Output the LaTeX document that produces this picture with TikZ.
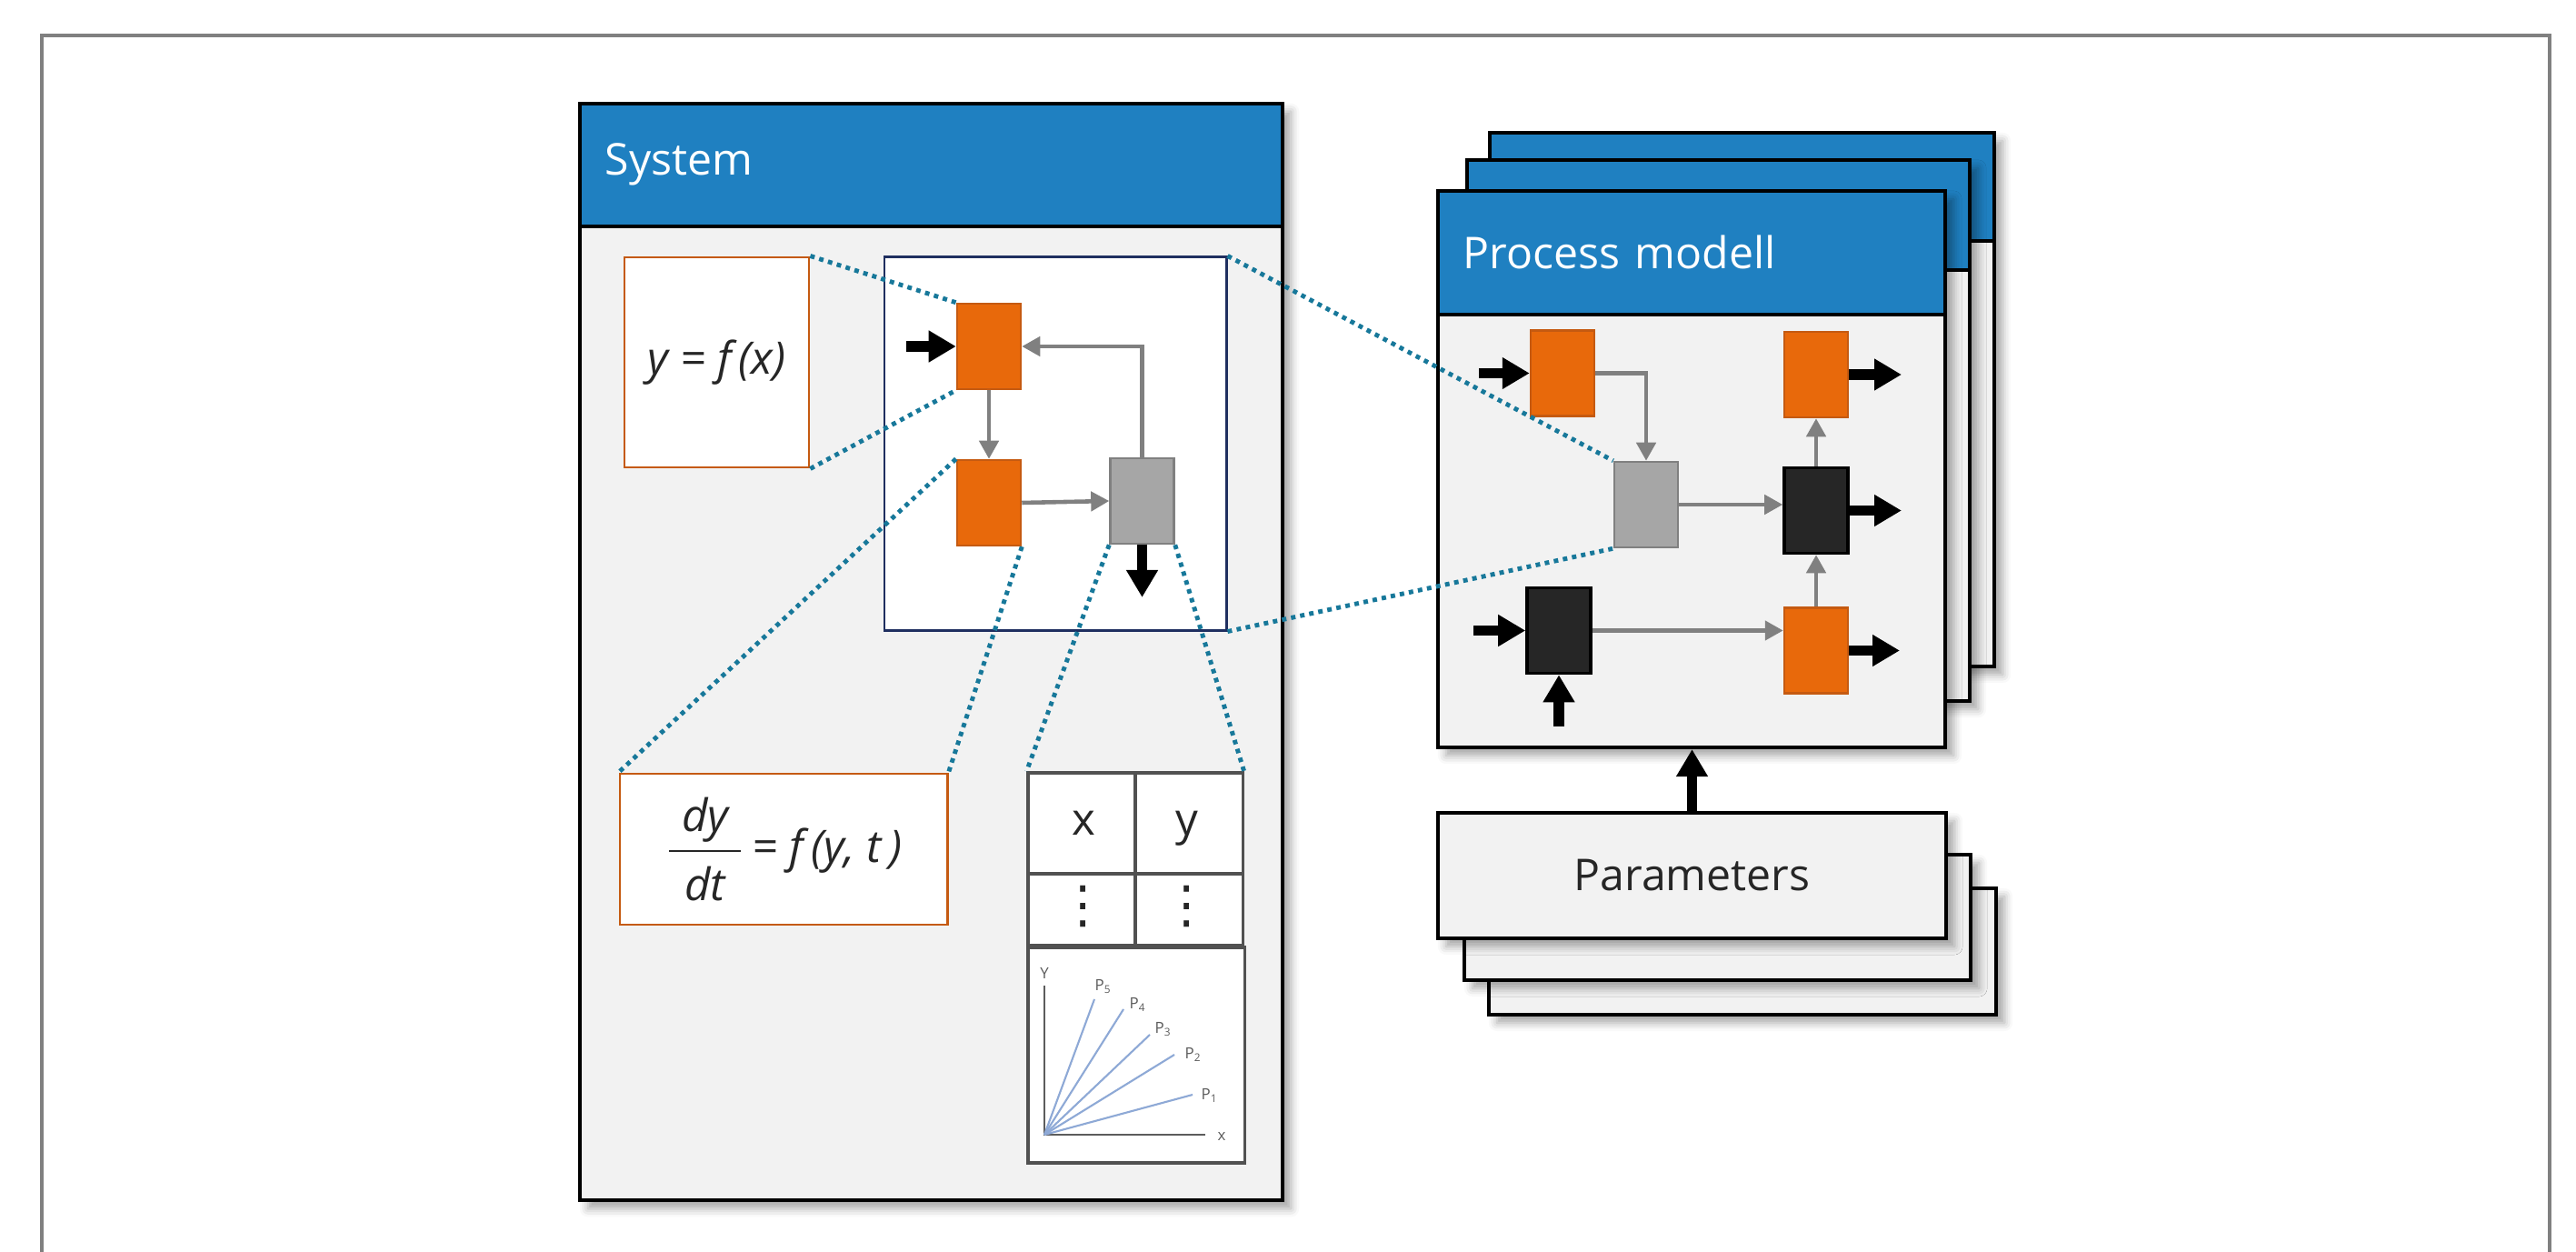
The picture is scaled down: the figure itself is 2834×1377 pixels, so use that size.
\documentclass[tikz,border=0pt]{standalone}
\usepackage{fontspec}
\setmainfont{Open Sans}
\newfontfamily\dotsfont{DejaVu Sans}
\usetikzlibrary{arrows.meta,calc,shadows.blur}
\definecolor{c0}{HTML}{1F80C1}
\definecolor{c1}{HTML}{E8690B}
\definecolor{c2}{HTML}{C55A11}
\definecolor{c3}{HTML}{17789A}
\definecolor{c4}{HTML}{F2F2F2}
\definecolor{c5}{HTML}{1F2F60}
\definecolor{c6}{HTML}{8EA9D6}
\definecolor{ink}{HTML}{262626}
\definecolor{mid}{HTML}{808080}
\tikzset{%
  frame/.style={draw=mid,line width=0.9pt},
  card/.style={draw=black,fill=c4,line width=1.1pt,inner sep=0pt,
    blur shadow={shadow xshift=0.9mm,shadow yshift=-0.9mm,shadow blur radius=0.9mm,shadow opacity=35}},
  head/.style={draw=black,fill=c0,line width=1.1pt,inner xsep=0.28cm,inner ysep=0pt,
    align=left,text=white,font=\fontsize{13.7}{16}\selectfont},
  eqbox/.style={draw=c2,fill=white,line width=0.8pt,inner sep=0pt,text=ink,
    font=\fontsize{14}{17}\selectfont},
  subbox/.style={draw=c5,fill=white,line width=0.8pt,inner sep=0pt},
  tabbox/.style={draw=ink!80,fill=white,line width=0.9pt,inner sep=0pt},
  tabline/.style={draw=ink!80,line width=0.9pt},
  cell/.style={inner sep=0pt,text=ink,font=\fontsize{14}{17}\selectfont},
  plab/.style={inner sep=0pt,text=ink!75,font=\fontsize{4.8}{5}\selectfont},
  blk/.style={line width=0.7pt,minimum width=0.70cm,minimum height=0.94cm,inner sep=0pt},
  oblock/.style={blk,draw=c2,fill=c1},
  gblock/.style={blk,draw=mid,fill=black!35},
  kblock/.style={blk,draw=black,fill=ink,line width=1pt},
  garrow/.style={draw=mid,line width=1.3pt,-{Triangle[length=0.2cm,width=0.21cm]}},
  barrow/.style={draw=black,line width=3.2pt,-{Triangle[length=0.3cm,width=0.33cm]}},
  zoomline/.style={draw=c3,line width=1.4pt,dash pattern=on 1.4pt off 1.5pt},
  curve/.style={draw=c6,line width=0.6pt},
  axis/.style={draw=ink!75,line width=0.7pt}
}

\begin{document}
\begin{tikzpicture}[x=0.01cm,y=-0.01cm]
  \useasboundingbox (0,0) rectangle (2834,1377);
  % Frame
  \draw[frame] (46,1377) -- (46,39) -- (2805,39) -- (2805,1377);

  % System
  \node[card,minimum width=7.73cm,minimum height=12.06cm] (sys) at (1024.5,717) {};
  \node[head,anchor=north west,text width=7.17cm,minimum height=1.35cm] (sysh) at (sys.north west) {System};
  \node[eqbox,minimum width=2.03cm,minimum height=2.31cm] (fx) at (788.5,398.5) {\itshape y = f\,(x)};
  \node[eqbox,minimum width=3.60cm,minimum height=1.66cm] (ode) at (862,934)
    {$\displaystyle\frac{\mbox{\hspace{4pt}\itshape dy\hspace{4pt}}\rule[-3pt]{0pt}{3pt}}{\rule{0pt}{14pt}\mbox{\hspace{4pt}\itshape dt\hspace{4pt}}}$\,{\itshape = f\,(y, t\,)}};
  \node[subbox,minimum width=3.76cm,minimum height=4.10cm] (sub) at (1161,488) {};
  \node[oblock] (so1) at (1088,381) {};
  \node[oblock] (so2) at (1088,553) {};
  \node[gblock] (sg) at (1256.5,551) {};
  \coordinate (in1) at (997,381);
  \coordinate (out1) at (1256.5,657);
  \draw[barrow] (in1) -- (so1.west);
  \draw[garrow] (sg.north) |- (so1.east);
  \draw[garrow] (so1.south) -- (so2.north);
  \draw[garrow] (so2.east) -- (sg.west);
  \draw[barrow] (sg.south) -- (out1);

  % Table and plot
  \node[tabbox,minimum width=2.36cm,minimum height=1.90cm] (tab) at (1249,945) {};
  \draw[tabline] (tab.north) -- (tab.south);
  \draw[tabline] (1131,961) -- (1367,961);
  \node[cell,anchor=base] (tx) at (1192,919) {x};
  \node[cell,anchor=base] (ty) at (1306,919) {y};
  \node[cell,font=\dotsfont\fontsize{16}{18}\selectfont] (vx) at (1192,997) {⋮};
  \node[cell,font=\dotsfont\fontsize{16}{18}\selectfont] (vy) at (1306,997) {⋮};
  \node[tabbox,minimum width=2.38cm,minimum height=2.37cm] (plt) at (1250,1160.5) {};
  \coordinate (o) at (1149,1248);
  \draw[axis] (1149,1084) -- (o) -- (1326,1248);
  \node[plab] (ly) at (1149,1070) {Y};
  \node[plab] (lx) at (1344,1250) {x};
  \foreach \ex/\ey/\lx/\ly/\i in {1312/1204/1331/1205/1,1292/1160/1313/1160/2,
      1265/1138/1280/1132/3,1236/1110/1252/1105/4,1204/1099/1214/1085/5}{
    \draw[curve] (o) -- (\ex,\ey);
    \node[plab] (p\i) at (\lx,\ly) {P\textsubscript{\i}};
  }

  % Process modell
  \node[card,minimum width=5.55cm,minimum height=5.87cm] (pm3) at (1916.5,439.5) {};
  \node[head,anchor=north west,minimum width=5.55cm,minimum height=1.19cm] (pm3h) at (pm3.north west) {};
  \node[card,minimum width=5.53cm,minimum height=5.95cm] (pm2) at (1890.5,473.5) {};
  \node[head,anchor=north west,minimum width=5.53cm,minimum height=1.21cm] (pm2h) at (pm2.north west) {};
  \node[card,minimum width=5.58cm,minimum height=6.12cm] (pm) at (1861,516) {};
  \node[head,anchor=north west,text width=5.02cm,minimum height=1.36cm] (pmh) at (pm.north west) {Process modell};
  \node[oblock] (pa) at (1719,410.5) {};
  \node[oblock] (pb) at (1998,412) {};
  \node[gblock] (pc) at (1811,555) {};
  \node[kblock] (pd) at (1998,561.5) {};
  \node[kblock] (pe) at (1715,693.5) {};
  \node[oblock] (pf) at (1998,715.5) {};
  \coordinate (ia) at (1627,410.5);
  \coordinate (ie) at (1621,693.5);
  \coordinate (ie2) at (1715,799);
  \coordinate (ob) at (2092,412);
  \coordinate (od) at (2092,561.5);
  \coordinate (of) at (2090,715.5);
  \draw[barrow] (ia) -- (pa.west);
  \draw[barrow] (ie) -- (pe.west);
  \draw[barrow] (ie2) -- (pe.south);
  \draw[garrow] (pa.east) -| (pc.north);
  \draw[garrow] (pc.east) -- (pc.east -| pd.west);
  \draw[garrow] (pd.north) -- (pb.south);
  \draw[garrow] (pf.north) -- (pd.south);
  \draw[garrow] (pe.east) -- (pe.east -| pf.west);
  \draw[barrow] (pb.east) -- (ob);
  \draw[barrow] (pd.east) -- (od);
  \draw[barrow] (pf.east) -- (of);

  % Parameters
  \node[card,minimum width=5.58cm,minimum height=1.39cm] (prm3) at (1917,1046.5) {};
  \node[card,minimum width=5.57cm,minimum height=1.38cm] (prm2) at (1889.5,1009) {};
  \node[card,minimum width=5.59cm,minimum height=1.38cm,text=ink,
    font=\fontsize{13.7}{16}\selectfont] (prm) at (1861.5,963) {Parameters};
  \draw[barrow] (prm.north) -- (prm.north |- pm.south);

  % Zoom lines
  \draw[zoomline] (fx.north east) -- (so1.north west);
  \draw[zoomline] (fx.south east) -- (so1.south west);
  \draw[zoomline] (so2.north west) -- (ode.north west);
  \draw[zoomline] (so2.south east) -- (ode.north east);
  \draw[zoomline] (sg.south west) -- (tab.north west);
  \draw[zoomline] (sg.south east) -- (tab.north east);
  \draw[zoomline] (sub.north east) -- (pc.north west);
  \draw[zoomline] (sub.south east) -- (pc.south west);
\end{tikzpicture}
\end{document}
